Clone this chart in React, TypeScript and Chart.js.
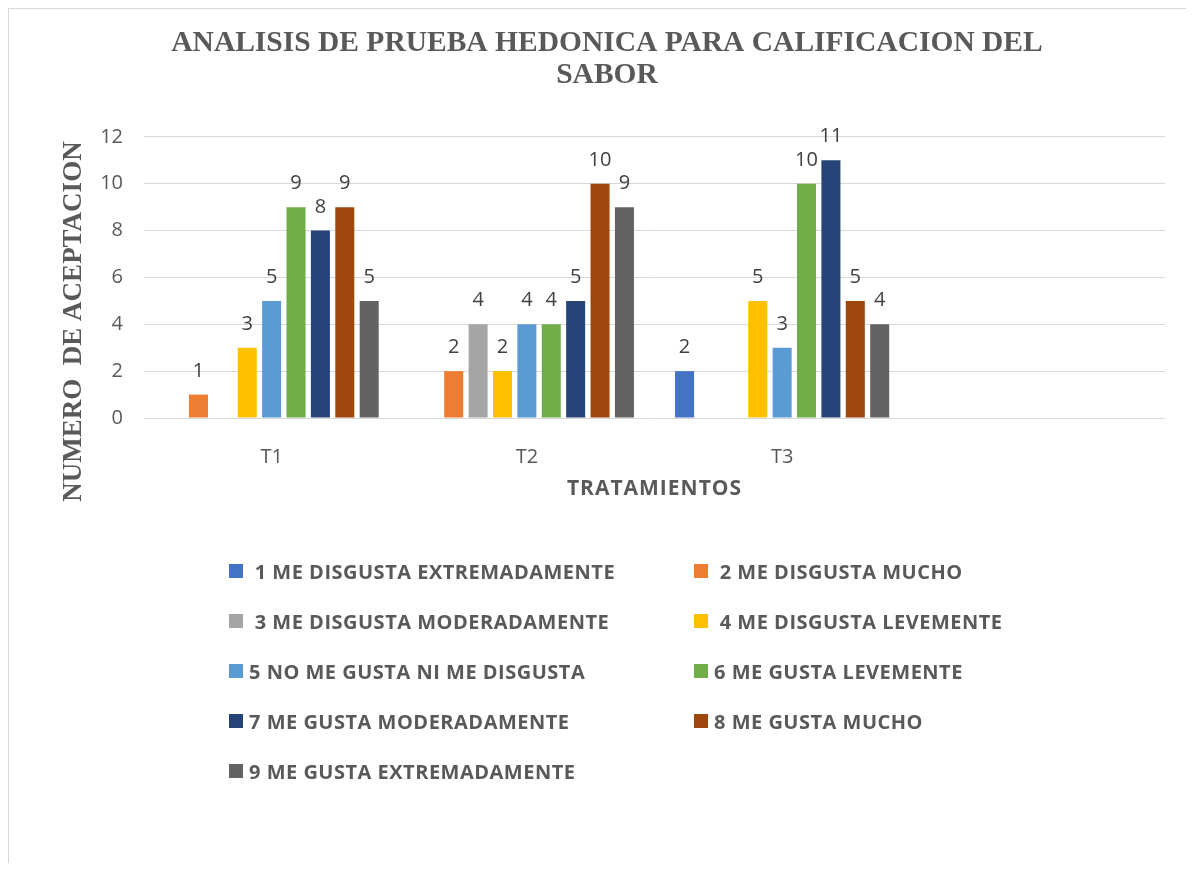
import React, { useEffect, useRef } from "react";
import { Chart, registerables } from "chart.js";

Chart.register(...registerables);

const titleLines = ["ANALISIS DE PRUEBA HEDONICA PARA CALIFICACION DEL", "SABOR"];
const yAxisTitle = "NUMERO  DE ACEPTACION";
const xAxisTitle = "TRATAMIENTOS";
const categories = ["T1", "T2", "T3", ""];
const yTicks = [0, 2, 4, 6, 8, 10, 12];

const seriesNames = [
  " 1 ME DISGUSTA EXTREMADAMENTE",
  " 2 ME DISGUSTA MUCHO",
  " 3 ME DISGUSTA MODERADAMENTE",
  " 4 ME DISGUSTA LEVEMENTE",
  "5 NO ME GUSTA NI ME DISGUSTA",
  "6 ME GUSTA LEVEMENTE",
  "7 ME GUSTA MODERADAMENTE",
  "8 ME GUSTA MUCHO",
  "9 ME GUSTA EXTREMADAMENTE",
];
const seriesColors = ["#4472C4", "#ED7D31", "#A5A5A5", "#FFC000", "#5B9BD5", "#70AD47", "#264478", "#9E480E", "#636363"];

const s1 = [0, 0, 2];
const s2 = [1, 2, 0];
const s3 = [0, 4, 0];
const s4 = [3, 2, 5];
const s5 = [5, 4, 3];
const s6 = [9, 4, 10];
const s7 = [8, 5, 11];
const s8 = [9, 10, 5];
const s9 = [5, 9, 4];
const seriesValues = [s1, s2, s3, s4, s5, s6, s7, s8, s9];

const SANS = "'Open Sans', 'Noto Sans', sans-serif";
const SERIF = "'Liberation Serif', 'DejaVu Serif', serif";

const CANVAS_W = 1196;
const CANVAS_H = 854;

const textPlugin = {
  id: "textPlugin",
  afterDatasetsDraw(chart: any) {
    const ctx = chart.ctx;
    ctx.save();
    ctx.font = `20px ${SANS}`;
    ctx.fillStyle = "#404040";
    ctx.textAlign = "center";
    ctx.textBaseline = "alphabetic";
    chart.data.datasets.forEach((ds: any, di: number) => {
      const meta = chart.getDatasetMeta(di);
      meta.data.forEach((el: any, i: number) => {
        const v = ds.data[i];
        if (v === null || v === undefined || v === 0) return;
        ctx.fillText(String(v), el.x, el.y - 18);
      });
    });
    ctx.restore();
  },
  afterDraw(chart: any) {
    const ctx = chart.ctx;
    const area = chart.chartArea;
    ctx.save();
    ctx.translate(65.5, 312.5);
    ctx.rotate(-Math.PI / 2);
    ctx.font = `bold 27px ${SERIF}`;
    ctx.fillStyle = "#595959";
    ctx.textAlign = "center";
    ctx.textBaseline = "middle";
    ctx.fillText(yAxisTitle, 0, 0);
    ctx.restore();
    ctx.save();
    ctx.font = `bold 21px ${SANS}`;
    (ctx as any).letterSpacing = "1px";
    ctx.fillStyle = "#595959";
    ctx.textAlign = "center";
    ctx.textBaseline = "middle";
    ctx.fillText(xAxisTitle, (area.left + area.right) / 2, 480);
    ctx.restore();
  },
};

export default function App() {
  const ref = useRef<HTMLCanvasElement | null>(null);

  useEffect(() => {
    if (!ref.current) return;
    const chart = new Chart(ref.current, {
      type: "bar",
      data: {
        labels: categories,
        datasets: seriesNames.map((name, i) => ({
          label: name,
          data: seriesValues[i],
          backgroundColor: seriesColors[i],
          borderWidth: 0,
          categoryPercentage: 0.86,
          barPercentage: 0.78,
        })),
      },
      options: {
        responsive: false,
        animation: false,
        devicePixelRatio: 1,
        layout: { padding: { left: 40, right: 40, top: 0, bottom: 345 } },
        plugins: {
          legend: { display: false },
          tooltip: { enabled: false },
          title: {
            display: true,
            text: titleLines,
            color: "#595959",
            font: { family: SERIF, size: 29.5, weight: "bold", lineHeight: 1.1 },
            padding: { top: 18, bottom: 45 },
          },
        },
        scales: {
          x: {
            grid: { display: false },
            border: { display: false },
            ticks: { color: "#595959", font: { family: SANS, size: 20 }, padding: 19 },
            afterFit: (s: any) => {
              s.height = 100;
            },
          },
          y: {
            min: 0,
            max: 12,
            afterBuildTicks: (s: any) => {
              s.ticks = yTicks.map((v) => ({ value: v }));
            },
            grid: { color: "#d9d9d9", lineWidth: 1, drawTicks: false },
            border: { display: false },
            ticks: { color: "#595959", font: { family: SANS, size: 20 }, padding: 21 },
            afterFit: (s: any) => {
              s.width = 95;
            },
          },
        },
      },
      plugins: [textPlugin],
    });
    return () => chart.destroy();
  }, []);

  return (
    <div
      style={{
        position: "relative",
        width: 1177,
        height: CANVAS_H,
        overflow: "hidden",
        borderLeft: "1px solid #d9d9d9",
        borderTop: "1px solid #d9d9d9",
        background: "#fff",
      }}
    >
      <canvas ref={ref} width={CANVAS_W} height={CANVAS_H} style={{ display: "block", width: CANVAS_W, height: CANVAS_H }} />
      <div
        style={{
          position: "absolute",
          left: 220,
          top: 537,
          display: "grid",
          gridTemplateColumns: "465px 465px",
          gridAutoRows: "50px",
          fontFamily: SANS,
          fontWeight: 700,
          fontSize: 20,
          letterSpacing: "0.5px",
          color: "#595959",
        }}
      >
        {seriesNames.map((name, i) => (
          <div key={i} style={{ display: "flex", alignItems: "center", whiteSpace: "pre" }}>
            <span style={{ display: "inline-block", width: 14, height: 14, background: seriesColors[i], marginRight: 6, flex: "none" }} />
            <span>{name}</span>
          </div>
        ))}
      </div>
    </div>
  );
}
